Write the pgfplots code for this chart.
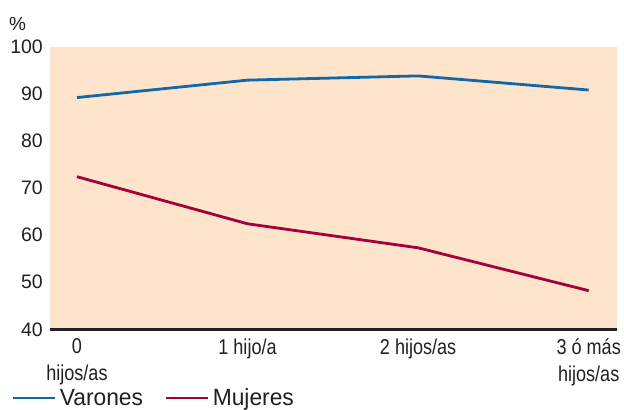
\documentclass[border=0pt]{standalone}
\usepackage{fontspec}
\setmainfont{Liberation Sans}
\newfontfamily\condfont{Liberation Sans}[FakeStretch=0.84]
\newfontfamily\legfont{Liberation Sans}[FakeStretch=0.97]
\usepackage{pgfplots}
\pgfplotsset{compat=1.18}
\definecolor{peach}{HTML}{FDE4CA}
\definecolor{varblue}{HTML}{1068A8}
\definecolor{mujred}{HTML}{A5003A}
\definecolor{axisdark}{HTML}{231F20}
\begin{document}
\begin{tikzpicture}
\useasboundingbox (0,0) rectangle (624bp,410bp);
\node[anchor=base west, inner sep=0pt, font=\fontsize{19bp}{22bp}\selectfont, text=axisdark] at (9bp,379bp) {\%};
\begin{axis}[
  at={(50bp,80.7bp)}, anchor=south west,
  scale only axis, width=567bp, height=282.6bp,
  xmin=-0.158, xmax=3.166, ymin=40, ymax=100,
  axis background/.style={fill=peach},
  axis x line*=bottom, axis y line=none,
  x axis line style={line width=2.6bp, draw=axisdark, -},
  ytick={40,50,...,100},
  ymajorgrids, grid style={white, line width=1.2bp},
  major tick length=0pt,
  xtick={0,1,2,3},
  xticklabels={{0\\hijos/as},{1 hijo/a},{2 hijos/as},{3 ó más\\hijos/as}},
  xticklabel style={align=center, anchor=north, inner sep=0pt, yshift=-9bp,
    font=\condfont\fontsize{21.5bp}{26.7bp}\selectfont, text=axisdark},
  yticklabel style={font=\fontsize{19bp}{22bp}\selectfont, text=axisdark},
  /pgf/number format/assume math mode=true,
  legend columns=2,
  legend style={at={(axis description cs:-0.067,-0.2431)}, anchor=west,
    draw=none, fill=none, inner sep=0pt, outer sep=0pt,
    font=\legfont\fontsize{23.5bp}{25bp}\selectfont, text=axisdark,
    nodes={inner sep=0pt},
    /tikz/every odd column/.style={column sep=3bp},
    /tikz/every even column/.style={column sep=22bp}},
  legend image code/.code={\draw[#1, line width=2.8bp] (0bp,0bp) -- (42bp,0bp);},
  clip=false,
]
\pgfplotsinvokeforeach{40,50,...,100}{
  \node[anchor=east, inner sep=0pt, font=\fontsize{19.5bp}{22bp}\selectfont, text=axisdark] at (axis cs:-0.158,#1) [xshift=-7bp] {#1};
}
\addplot[varblue, line width=2.8bp] coordinates {(0,89.2) (1,92.9) (2,93.8) (3,90.8)};
\addlegendentry{Varones}
\addplot[mujred, line width=2.8bp] coordinates {(0,72.4) (1,62.4) (2,57.3) (3,48.2)};
\addlegendentry{Mujeres}
\end{axis}
\end{tikzpicture}
\end{document}
